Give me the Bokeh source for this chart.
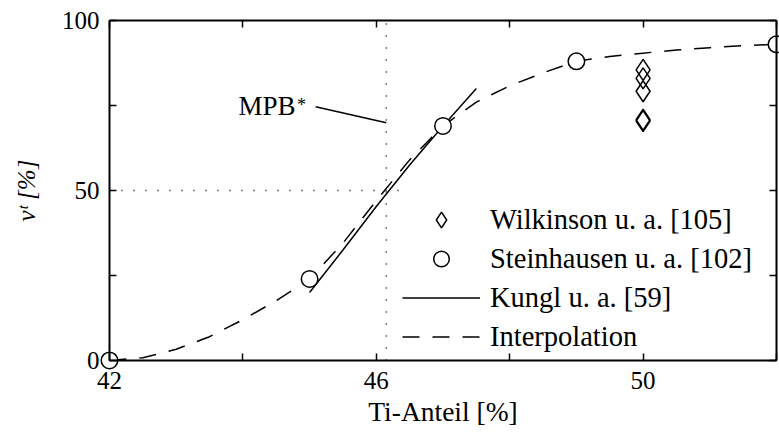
import math
from bokeh.plotting import figure
from bokeh.models import Range1d, FixedTicker, LinearAxis, Label, Legend, LegendItem
from bokeh.embed import file_html
from bokeh.resources import INLINE

# ---------------- data ----------------
steinhausen_x = [42, 45, 47, 49, 52]
steinhausen_y = [0, 24, 69, 88, 93]

wilkinson_x = [50, 50, 50, 50, 50]
wilkinson_y = [85.5, 83.0, 79.2, 70.8, 70.4]

kungl_x = [45.0, 45.5, 46.0, 46.5, 47.0, 47.5]
kungl_y = [20.0, 32.5, 45.3, 57.5, 69.0, 80.0]

interp_x = [42.0, 42.5, 43.0, 43.5, 44.0, 44.5, 45.0, 45.5, 46.0, 46.5, 47.0,
            47.5, 48.0, 48.5, 49.0, 49.5, 50.0, 50.5, 51.0, 51.5, 52.0]
interp_y = [0.0, 0.8, 3.3, 7.0, 12.0, 17.6, 24.0, 34.5, 47.0, 59.0, 69.0,
            76.0, 80.8, 84.6, 88.0, 89.4, 90.4, 91.3, 92.0, 92.6, 93.0]

mpb_x = 46.15
half_level = 50
half_line_end = 46.48
mpb_leader_x = [45.09, mpb_x]
mpb_leader_y = [74.6, 69.9]

x_min, x_max = 42, 52
y_min, y_max = 0, 100
x_ticks = [42, 44, 46, 48, 50, 52]
x_tick_labels = ["42", "", "46", "", "50", ""]
y_ticks = [0, 25, 50, 75, 100]
y_tick_labels = ["0", "", "50", "", "100"]

FONT = "Liberation Serif"

# The frame fills the whole canvas; the box axes are pinned at the data limits.
p = figure(width=779, height=432, x_range=Range1d(40.366, 52.045), y_range=Range1d(-21.18, 105.88),
           toolbar_location=None, output_backend="svg", min_border=0,
           min_border_left=0, min_border_right=0, min_border_top=0, min_border_bottom=0)
p.outline_line_color = None
p.xgrid.visible = False
p.ygrid.visible = False
p.background_fill_color = "white"
p.border_fill_color = "white"


def style_axis(ax, ticks, labels, loc, bounds, tick_in, tick_out, show_labels=True):
    ax.ticker = FixedTicker(ticks=ticks)
    ax.fixed_location = loc
    ax.bounds = bounds
    ax.axis_line_width = 2
    ax.axis_line_color = "black"
    ax.major_tick_in = tick_in
    ax.major_tick_out = tick_out
    ax.major_tick_line_width = 1.5
    ax.major_tick_line_color = "black"
    ax.minor_tick_line_color = None
    ax.major_label_text_font = FONT
    ax.major_label_text_font_size = "25px"
    ax.major_label_text_color = "black"
    ax.axis_label_text_font = FONT
    ax.axis_label_text_color = "black"
    if show_labels:
        ax.major_label_overrides = {t: l for t, l in zip(ticks, labels)}
    else:
        ax.major_label_overrides = {t: "" for t in ticks}
        ax.major_label_standoff = 0


xa = p.xaxis[0]
style_axis(xa, x_ticks, x_tick_labels, y_min, (x_min, x_max), 7, 0)
xa.major_label_standoff = 12
xa.axis_label = "Ti-Anteil [%]"
xa.axis_label_text_font_size = "27.5px"
xa.axis_label_text_font_style = "normal"
xa.axis_label_standoff = 3

ya = p.yaxis[0]
style_axis(ya, y_ticks, y_tick_labels, x_min, (y_min, y_max), 7, 0)
ya.major_label_standoff = 10
ya.axis_label = "v\u1d57 [%]"
ya.axis_label_text_font_size = "25px"
ya.axis_label_text_font_style = "italic"
ya.axis_label_standoff = 19

top_ax = LinearAxis()
style_axis(top_ax, x_ticks, x_tick_labels, y_max, (x_min, x_max), 0, 7, show_labels=False)
p.add_layout(top_ax, "below")
right_ax = LinearAxis()
style_axis(right_ax, y_ticks, y_tick_labels, x_max, (y_min, y_max), 0, 7, show_labels=False)
p.add_layout(right_ax, "left")

# reference lines
p.line([mpb_x, mpb_x], [y_min, y_max], line_color="black", line_width=1.5, line_dash="1 11")
p.line([x_min, half_line_end], [half_level, half_level], line_color="black", line_width=1.5,
       line_dash="1 11")
p.line(mpb_leader_x, mpb_leader_y, line_color="black", line_width=1.5)

r_int = p.line(interp_x, interp_y, line_color="black", line_width=1.5, line_dash="17 13")
r_kun = p.line(kungl_x, kungl_y, line_color="black", line_width=1.5)
r_wil = p.scatter(wilkinson_x, wilkinson_y, marker="diamond", size=21, fill_color="white",
                  fill_alpha=0, line_color="black", line_width=1.5)
r_ste = p.scatter(steinhausen_x, steinhausen_y, marker="circle", size=16.5, fill_color="white",
                  line_color="black", line_width=1.5)

# MPB label
p.add_layout(Label(x=44.79, y=74.9, text="MPB", text_align="right", text_baseline="middle",
                   text_font=FONT, text_font_size="27px", text_color="black"))
p.add_layout(Label(x=44.81, y=75.2, text="*", text_align="left", text_baseline="middle",
                   text_font=FONT, text_font_size="18px", text_color="black"))

legend = Legend(items=[
    LegendItem(label="Wilkinson u. a. [105]", renderers=[r_wil]),
    LegendItem(label="Steinhausen u. a. [102]", renderers=[r_ste]),
    LegendItem(label="Kungl u. a. [59]", renderers=[r_kun]),
    LegendItem(label="Interpolation", renderers=[r_int]),
], location=(402, 76), glyph_width=78, glyph_height=39, spacing=0, padding=0, margin=0,
    label_standoff=10, border_line_color=None, background_fill_alpha=0,
    label_text_font=FONT, label_text_font_size="28.5px", label_text_color="black")
p.add_layout(legend)

open("out.html", "w").write(file_html(p, INLINE))
